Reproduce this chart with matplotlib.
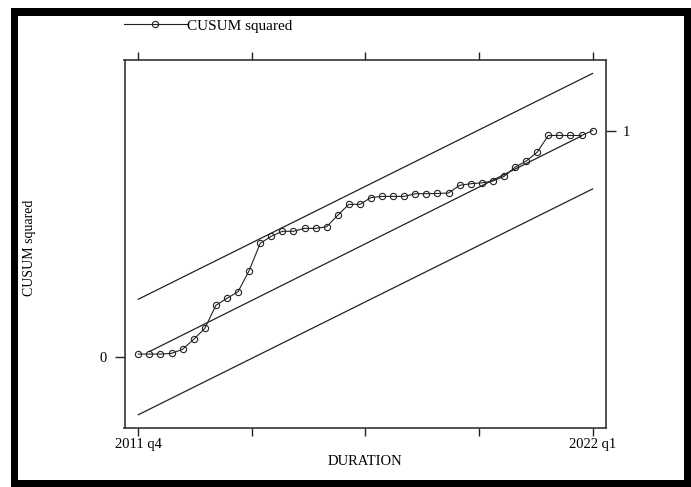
import matplotlib
matplotlib.use("Agg")
import matplotlib.pyplot as plt
from matplotlib.patches import Rectangle

# ---- data ----
quarter_index = list(range(42))  # 2011q4 ... 2022q1
cusum_sq = [0.013, 0.013, 0.013, 0.016, 0.034, 0.078, 0.126, 0.228, 0.259, 0.288,
            0.381, 0.502, 0.533, 0.555, 0.555, 0.568, 0.568, 0.575, 0.626, 0.674,
            0.674, 0.704, 0.709, 0.709, 0.709, 0.721, 0.721, 0.722, 0.724, 0.758,
            0.765, 0.769, 0.777, 0.797, 0.838, 0.865, 0.904, 0.978, 0.978, 0.978,
            0.978, 1.0]
center_x = [1, 40]
center_y = [0.024, 0.976]
bound_x = [0, 41]
upper_y = [0.255, 1.252]
lower_y = [-0.255, 0.742]
xtick_pos = [0, 10.25, 20.5, 30.75, 41]
xtick_labels = ["2011 q4", "", "", "", "2022 q1"]

plt.rcParams['font.family'] = ['Liberation Serif', 'DejaVu Serif']

W, H = 691, 487
fig = plt.figure(figsize=(W/100, H/100), dpi=100)

# black frame
fig.patches.append(Rectangle((11/W, 0), 1 - 11/W, 1 - 8/H, transform=fig.transFigure,
                             facecolor='black', edgecolor='none', zorder=-10))
fig.patches.append(Rectangle((18/W, 7/H), (684-18)/W, (480-16)/H, transform=fig.transFigure,
                             facecolor='white', edgecolor='none', zorder=-9))

left, right, top, bottom = 124.5, 606, 60, 428
ax = fig.add_axes([left/W, 1 - bottom/H, (right-left)/W, (bottom-top)/H])
ax.set_facecolor('none')
ax.set_zorder(2)

lc = '#222222'
ax.plot(quarter_index, cusum_sq, color=lc, lw=0.8, marker='o', ms=4.5,
        mfc='none', mec=lc, mew=0.8, label='CUSUM squared', zorder=3)
ax.plot(center_x, center_y, color=lc, lw=0.9)
ax.plot(bound_x, upper_y, color=lc, lw=0.9)
ax.plot(bound_x, lower_y, color=lc, lw=0.9)

ymin = -(428-357)/226.5
ymax = (357-60)/226.5
ax.set_ylim(ymin, ymax)
ax.set_xlim(-(138.3-124.5)/11.08, 41 + (606-592.6)/11.08)

ax.set_xticks(xtick_pos)
ax.set_xticklabels(xtick_labels, fontsize=10.5)
ax.set_yticks([0])
ax.set_yticklabels(['0'], fontsize=10.5)
ax.tick_params(axis='x', direction='out', length=6, width=1, pad=1, top=True, color=lc)
ax.tick_params(axis='y', direction='out', length=7, width=1, pad=6, color=lc)
for s in ax.spines.values():
    s.set_color('#333333')
    s.set_linewidth(1.2)

ax2 = ax.twinx()
ax2.set_zorder(3)
ax2.set_facecolor('none')
ax2.set_ylim(ymin, ymax)
ax2.set_yticks([1])
ax2.set_yticklabels(['1'], fontsize=10.5)
ax2.tick_params(axis='y', direction='out', length=7, width=1, pad=5, color=lc)
for s in ax2.spines.values():
    s.set_visible(False)

ax.set_xlabel('DURATION', fontsize=10.5, labelpad=3)
fig.text(29/W, 1 - 248/H, 'CUSUM squared', rotation=90, fontsize=10,
         ha='center', va='center')

leg = fig.legend(handles=ax.get_lines()[:1], loc='upper left',
                 bbox_to_anchor=(124/W, 1 - 19/H), frameon=False, fontsize=11,
                 borderpad=0, borderaxespad=0, handletextpad=0, handlelength=4.1)

fig.savefig('out.png', dpi=100)
